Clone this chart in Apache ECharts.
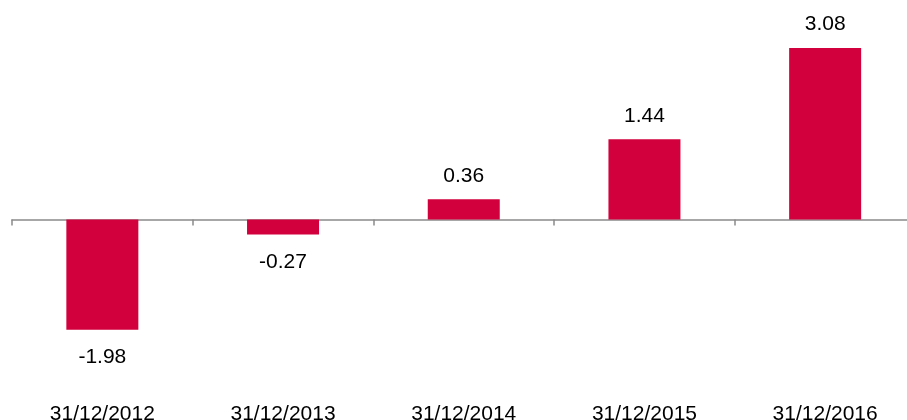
<!DOCTYPE html>
<html>
<head>
<meta charset="utf-8">
<script src="https://cdn.jsdelivr.net/npm/echarts@6/dist/echarts.min.js"></script>
<style>html,body{margin:0;padding:0;background:#fff}#c{width:907px;height:420px}</style>
</head>
<body>
<div id="c"></div>
<script>
const categories = ['31/12/2012', '31/12/2013', '31/12/2014', '31/12/2015', '31/12/2016'];
const values = [-1.98, -0.27, 0.36, 1.44, 3.08];

const chart = echarts.init(document.getElementById('c'));
const FONT = '"Liberation Sans", Arial, sans-serif';
chart.setOption({
  animation: false,
  grid: { left: 12, width: 903.5, top: 24.5, height: 362, containLabel: false, outerBoundsMode: 'none' },
  xAxis: [
    {
      type: 'category', data: categories, position: 'bottom',
      axisLine: { onZero: true, lineStyle: { color: '#8a8a8a', width: 1.5 } },
      axisTick: { show: true, length: 6, lineStyle: { color: '#8a8a8a', width: 1.5 } },
      axisLabel: { show: false }
    },
    {
      type: 'category', data: categories, position: 'bottom',
      axisLine: { show: false, onZero: false },
      axisTick: { show: false },
      axisLabel: { show: true, margin: 17, color: '#000', fontSize: 21, fontFamily: FONT }
    }
  ],
  yAxis: {
    type: 'value', min: -3, max: 3.5, show: false,
    splitLine: { show: false }
  },
  series: [{
    type: 'bar', xAxisIndex: 0, barWidth: 72,
    itemStyle: { color: '#D2003C' },
    data: values.map(v => ({
      value: v,
      label: { position: v < 0 ? 'bottom' : 'top', distance: v < 0 ? 17 : 13 }
    })),
    label: { show: true, color: '#000', fontSize: 21, fontFamily: FONT,
      formatter: p => p.value.toFixed(2) }
  }]
});
</script>
</body>
</html>
